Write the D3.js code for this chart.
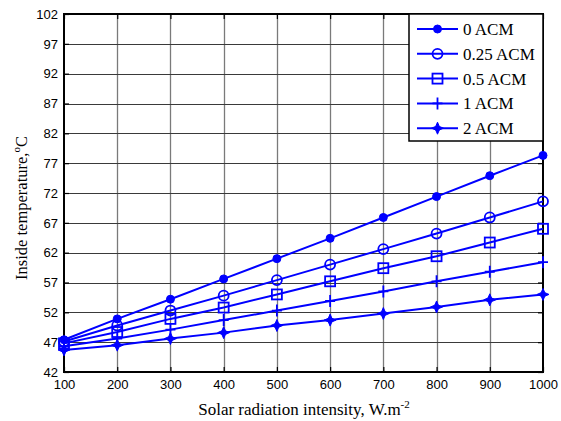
<!DOCTYPE html>
<html>
<head>
<meta charset="utf-8">
<script src="https://cdn.jsdelivr.net/npm/d3@7/dist/d3.min.js"></script>
<style>
  html, body { margin: 0; padding: 0; background: #fff; }
  svg { display: block; }
</style>
</head>
<body>
<svg id="chart" width="561" height="421"></svg>
<script>
// Solar radiation intensity (W/m²)
const radiation = [100, 200, 300, 400, 500, 600, 700, 800, 900, 1000];

// Inside temperature (°C) for each air-change rate
const acm0   = [47.4, 50.9, 54.2, 57.6, 61.0, 64.4, 67.9, 71.4, 74.9, 78.3];
const acm025 = [47.1, 49.8, 52.3, 54.8, 57.4, 60.0, 62.6, 65.2, 67.9, 70.6];
const acm05  = [46.8, 48.7, 50.9, 52.8, 55.0, 57.2, 59.4, 61.4, 63.7, 66.0];
const acm1   = [46.3, 47.6, 49.1, 50.7, 52.3, 53.9, 55.5, 57.2, 58.8, 60.4];
const acm2   = [45.7, 46.5, 47.6, 48.6, 49.8, 50.7, 51.8, 52.9, 54.1, 55.0];

const seriesNames = ["0 ACM", "0.25 ACM", "0.5 ACM", "1 ACM", "2 ACM"];
const seriesValues = [acm0, acm025, acm05, acm1, acm2];
const markerKinds = ["dot", "circle", "square", "plus", "star"];

const xTicks = [100, 200, 300, 400, 500, 600, 700, 800, 900, 1000];
const yTicks = [42, 47, 52, 57, 62, 67, 72, 77, 82, 87, 92, 97, 102];

const margin = { left: 64, top: 14, right: 543, bottom: 372 };
const blue = "#0000ff";

const svg = d3.select("#chart");

const x = d3.scaleLinear().domain([100, 1000]).range([margin.left, margin.right]);
const y = d3.scaleLinear().domain([42, 102]).range([margin.bottom, margin.top]);

// Grid
const grid = svg.append("g");
grid.selectAll("line.vg").data(xTicks.slice(1, -1)).enter().append("line")
  .attr("x1", d => Math.round(x(d)) + 0.5).attr("x2", d => Math.round(x(d)) + 0.5)
  .attr("y1", margin.top).attr("y2", margin.bottom)
  .attr("stroke", "#7a7a7a").attr("stroke-width", 1.3);
grid.selectAll("line.hg").data(yTicks.slice(1, -1)).enter().append("line")
  .attr("y1", d => Math.round(y(d)) + 0.5).attr("y2", d => Math.round(y(d)) + 0.5)
  .attr("x1", margin.left).attr("x2", margin.right)
  .attr("stroke", "#3a3a3a").attr("stroke-width", 1.1);

// Axes (ticks pointing inward, labels on left / bottom)
const xAxis = svg.append("g").attr("transform", `translate(0,${margin.bottom})`)
  .call(d3.axisBottom(x).tickValues(xTicks).tickSize(-5).tickPadding(8).tickFormat(d3.format("d")));
const xAxisTop = svg.append("g").attr("transform", `translate(0,${margin.top})`)
  .call(d3.axisTop(x).tickValues(xTicks).tickSize(-5).tickFormat(""));
const yAxis = svg.append("g").attr("transform", `translate(${margin.left},0)`)
  .call(d3.axisLeft(y).tickValues(yTicks).tickSize(-5).tickPadding(6).tickFormat(d3.format("d")));
const yAxisRight = svg.append("g").attr("transform", `translate(${margin.right},0)`)
  .call(d3.axisRight(y).tickValues(yTicks).tickSize(-5).tickFormat(""));

[xAxis, xAxisTop, yAxis, yAxisRight].forEach(g => {
  g.select(".domain").remove();
  g.selectAll(".tick line").attr("stroke", "#000").attr("stroke-width", 1.2);
  g.selectAll("text").attr("font-family", "Liberation Sans, Arial, sans-serif")
    .attr("font-size", 13).attr("fill", "#000");
});

// Plot frame
svg.append("rect")
  .attr("x", margin.left).attr("y", margin.top)
  .attr("width", margin.right - margin.left).attr("height", margin.bottom - margin.top)
  .attr("fill", "none").attr("stroke", "#000").attr("stroke-width", 2);

// Marker drawing
function drawMarker(g, kind, cx, cy) {
  if (kind === "dot") {
    g.append("circle").attr("cx", cx).attr("cy", cy).attr("r", 4)
      .attr("fill", blue).attr("stroke", blue).attr("stroke-width", 1);
  } else if (kind === "circle") {
    g.append("circle").attr("cx", cx).attr("cy", cy).attr("r", 5)
      .attr("fill", "none").attr("stroke", blue).attr("stroke-width", 1.8);
  } else if (kind === "square") {
    g.append("rect").attr("x", cx - 5).attr("y", cy - 5).attr("width", 10).attr("height", 10)
      .attr("fill", "none").attr("stroke", blue).attr("stroke-width", 1.8);
  } else if (kind === "plus") {
    g.append("path").attr("d", `M${cx - 5},${cy}H${cx + 5}M${cx},${cy - 6}V${cy + 6}`)
      .attr("stroke", blue).attr("stroke-width", 1.8).attr("fill", "none");
  } else if (kind === "star") {
    const a = 6, b = 1.8;
    g.append("path")
      .attr("d", `M${cx},${cy - a}L${cx + b},${cy - b}L${cx + a},${cy}L${cx + b},${cy + b}L${cx},${cy + a}L${cx - b},${cy + b}L${cx - a},${cy}L${cx - b},${cy - b}Z`)
      .attr("fill", blue).attr("stroke", blue).attr("stroke-width", 1);
    g.append("circle").attr("cx", cx).attr("cy", cy).attr("r", 2.6).attr("fill", blue);
  }
}

// Series
const line = d3.line().x((d, i) => x(radiation[i])).y(d => y(d));
seriesValues.forEach((vals, si) => {
  const g = svg.append("g");
  g.append("path").datum(vals).attr("d", line)
    .attr("fill", "none").attr("stroke", blue).attr("stroke-width", 2);
  vals.forEach((v, i) => drawMarker(g, markerKinds[si], x(radiation[i]), y(v)));
});

// Legend
const legend = svg.append("g");
legend.append("rect").attr("x", 409).attr("y", 14).attr("width", 134).attr("height", 127)
  .attr("fill", "#fff").attr("stroke", "#000").attr("stroke-width", 1.5);
seriesNames.forEach((name, i) => {
  const ly = 29 + i * 24.8;
  legend.append("line").attr("x1", 417).attr("x2", 458).attr("y1", ly).attr("y2", ly)
    .attr("stroke", blue).attr("stroke-width", 2);
  drawMarker(legend, markerKinds[i], 437.5, ly);
  legend.append("text").attr("x", 463).attr("y", ly + 6)
    .attr("font-family", "Liberation Serif, Times New Roman, serif").attr("font-size", 17)
    .attr("fill", "#000").text(name);
});

// Axis titles
const xt = svg.append("text").attr("x", 304).attr("y", 415).attr("text-anchor", "middle")
  .attr("font-family", "Liberation Serif, Times New Roman, serif").attr("font-size", 17).attr("fill", "#000");
xt.append("tspan").text("Solar radiation intensity, W.m");
xt.append("tspan").attr("dy", -7).attr("font-size", 11).text("-2");

const yt = svg.append("text").attr("transform", "translate(27,208) rotate(-90)").attr("text-anchor", "middle")
  .attr("font-family", "Liberation Serif, Times New Roman, serif").attr("font-size", 16.5).attr("fill", "#000");
yt.append("tspan").text("Inside temperature,");
yt.append("tspan").attr("dy", -7).attr("font-size", 11).text("o");
yt.append("tspan").attr("dy", 7).text("C");
</script>
</body>
</html>
